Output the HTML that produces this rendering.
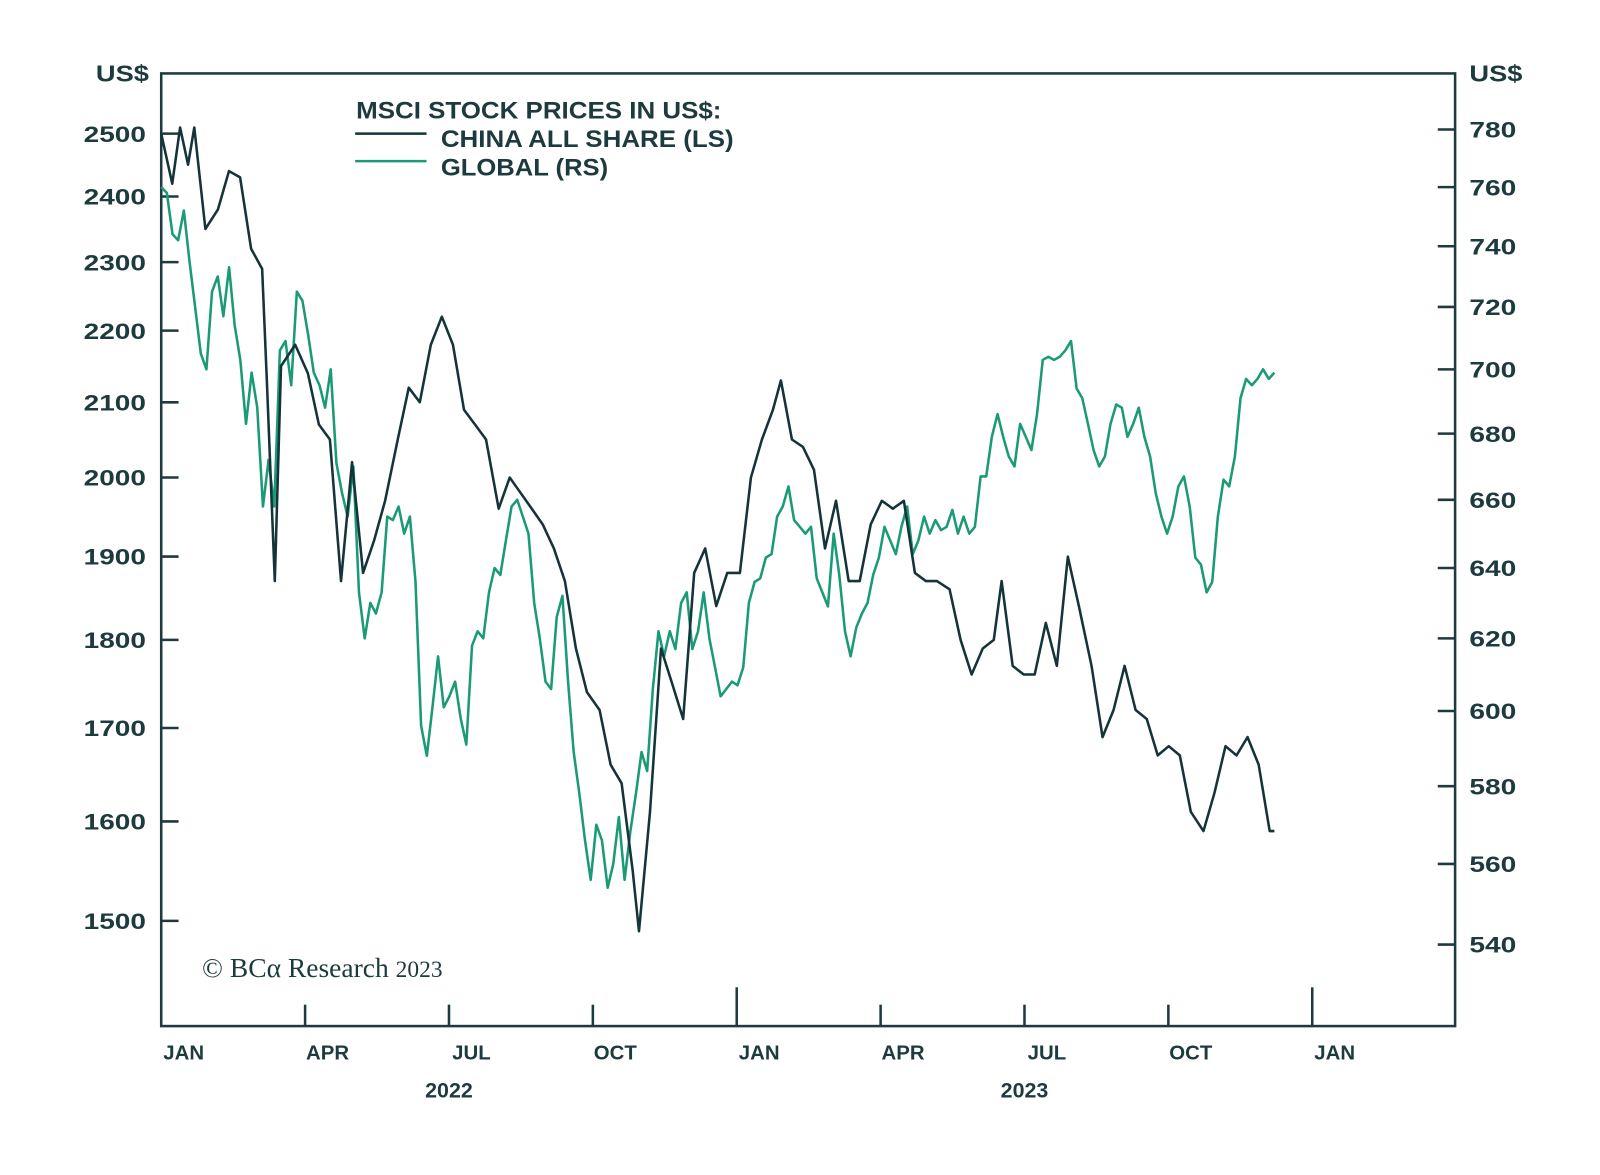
<!DOCTYPE html>
<html><head><meta charset="utf-8">
<style>
html,body{margin:0;padding:0;background:#fff;}
svg{display:block;}
text{font-family:"Liberation Sans",sans-serif;font-weight:bold;fill:#1d3b3f;}
</style></head>
<body>
<svg id="chart" width="1600" height="1175" viewBox="0 0 1568 1152" preserveAspectRatio="none" xmlns="http://www.w3.org/2000/svg">
<rect x="0" y="0" width="1568" height="1152" fill="#fff"/>
<g id="axes"></g>
<g id="series"></g>
<g>
<text x="349" y="116" font-size="24" textLength="358" lengthAdjust="spacingAndGlyphs">MSCI STOCK PRICES IN US$:</text>
<line x1="348" y1="131" x2="418" y2="131" stroke="#15343a" stroke-width="2.5"/>
<text x="432" y="144" font-size="24" textLength="287" lengthAdjust="spacingAndGlyphs">CHINA ALL SHARE (LS)</text>
<line x1="348" y1="158" x2="418" y2="158" stroke="#1b9a77" stroke-width="2.5"/>
<text x="432" y="172" font-size="24" textLength="164" lengthAdjust="spacingAndGlyphs">GLOBAL (RS)</text>
</g>
<text x="198" y="958" font-size="27" style="font-family:'Liberation Serif',serif;font-weight:normal">© BCα Research <tspan font-size="23">2023</tspan></text>
</svg>
<script>
const chinaDays=[0,7,12,17,21,28,36,43,50,57,64,67,72,76,85,93,100,107,114,121,128,135,142,150,157,164,171,178,185,192,199,206,214,221,228,235,242,249,256,263,270,278,285,292,299,303,310,317,324,331,338,345,352,359,367,374,381,388,393,400,407,414,421,428,436,443,450,457,464,471,478,485,492,500,507,514,521,528,533,540,547,554,561,568,575,582,590,597,604,611,618,625,632,639,646,653,661,668,675,682,689,696,703,706];
const chinaValues=[2500,2420,2510,2450,2510,2350,2380,2440,2430,2320,2290,2130,1870,2150,2180,2140,2070,2050,1870,2020,1880,1920,1970,2050,2120,2100,2180,2220,2180,2090,2070,2050,1960,2000,1980,1960,1940,1910,1870,1790,1740,1720,1660,1640,1550,1490,1610,1790,1750,1710,1880,1910,1840,1880,1880,2000,2050,2090,2130,2050,2040,2010,1910,1970,1870,1870,1940,1970,1960,1970,1880,1870,1870,1860,1800,1760,1790,1800,1870,1770,1760,1760,1820,1770,1900,1840,1770,1690,1720,1770,1720,1710,1670,1680,1670,1610,1590,1630,1680,1670,1690,1660,1590,1590];
const globalValues=[760,758,744,742,752,735,720,705,700,725,730,717,733,714,703,683,699,688,658,672,658,706,709,695,725,722,711,699,695,688,700,671,662,655,670,633,620,630,627,633,655,654,658,650,655,636,596,588,601,615,601,604,608,598,591,618,622,620,633,640,638,648,658,660,655,650,630,620,608,606,626,632,608,589,578,566,556,570,566,554,560,572,556,568,578,589,584,606,622,615,622,617,630,633,617,622,633,620,612,604,606,608,607,612,630,636,637,643,644,655,658,664,654,652,650,652,637,633,629,650,638,622,615,623,627,630,638,643,652,648,644,652,658,644,648,655,650,654,651,652,657,650,655,650,652,667,667,679,686,679,673,670,683,679,675,686,703,704,703,704,706,709,694,691,683,675,670,673,683,689,688,679,683,688,679,673,662,655,650,655,664,667,658,643,641,633,636,655,666,664,673,691,697,695,697,700,697,699];
const leftTicks=[2500,2400,2300,2200,2100,2000,1900,1800,1700,1600,1500];
const rightTicks=[780,760,740,720,700,680,660,640,620,600,580,560,540];
const monthLabels=["JAN","APR","JUL","OCT","JAN","APR","JUL","OCT","JAN"];
const yearLabels=["2022","2023"];

const L=158,R=1426,T=72,B=1006;
const NS="http://www.w3.org/2000/svg";
const xDay=d=>L+d*141/91.25;
const yLeft=v=>131+Math.log(2500/v)*1511;
const yRight=v=>127+Math.log(780/v)*2173;
const axes=document.getElementById('axes');
const series=document.getElementById('series');
function mk(tag,attrs,parent){const e=document.createElementNS(NS,tag);for(const k in attrs)e.setAttribute(k,attrs[k]);parent.appendChild(e);return e;}

const frame=mk('rect',{x:L,y:T,width:R-L,height:B-T,fill:'none',stroke:'#1d3b3f','stroke-width':2.5},axes);


let t=mk('text',{x:94,y:80,'font-size':23,textLength:52,lengthAdjust:'spacingAndGlyphs'},axes);t.textContent='US$';


t=mk('text',{x:1440,y:80,'font-size':23,textLength:52,lengthAdjust:'spacingAndGlyphs'},axes);t.textContent='US$';



leftTicks.forEach(v=>{const y=yLeft(v);
 const l=mk('line',{x1:L,x2:L+17,y1:y,y2:y,stroke:'#1d3b3f','stroke-width':2.5},axes);
 
 
 const tx=mk('text',{x:82,y:y+8,'font-size':22,textLength:61,lengthAdjust:'spacingAndGlyphs'},axes);tx.textContent=v;
 
 
});
rightTicks.forEach(v=>{const y=yRight(v);
 const l=mk('line',{x1:R-17,x2:R,y1:y,y2:y,stroke:'#1d3b3f','stroke-width':2.5},axes);
 
 
 const tx=mk('text',{x:1440,y:y+8,'font-size':22,textLength:46,lengthAdjust:'spacingAndGlyphs'},axes);tx.textContent=v;
 
 
});
monthLabels.forEach((m,i)=>{const x=L+i*141;const tall=(m==='JAN');
 if(i>0){const l=mk('line',{x1:x,x2:x,y1:B,y2:tall?968:985,stroke:'#1d3b3f','stroke-width':2.5},axes);
 
 }
 const tx=mk('text',{x:x+22,y:1039,'font-size':20,'text-anchor':'middle'},axes);tx.textContent=m;
 
 
});
yearLabels.forEach((yr,i)=>{const tx=mk('text',{x:440+i*564,y:1076,'font-size':21,'text-anchor':'middle'},axes);tx.textContent=yr;
 
 
});

const gStep=706/(globalValues.length-1);
const gPts=globalValues.map((v,i)=>xDay(i*gStep).toFixed(1)+','+yRight(v).toFixed(1)).join(' ');
const gl=mk('polyline',{points:gPts,fill:'none',stroke:'#1b9a77','stroke-width':2.5,'stroke-linejoin':'round'},series);


const cPts=chinaValues.map((v,i)=>xDay(chinaDays[i]).toFixed(1)+','+yLeft(v).toFixed(1)).join(' ');
const cl=mk('polyline',{points:cPts,fill:'none',stroke:'#15343a','stroke-width':2.5,'stroke-linejoin':'round'},series);


</script>
</body></html>
